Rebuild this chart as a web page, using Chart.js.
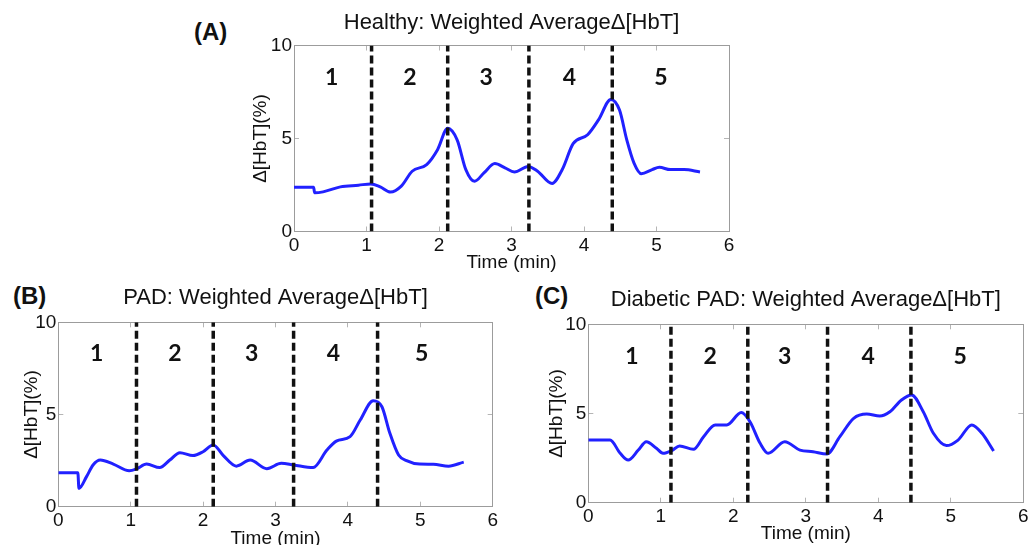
<!DOCTYPE html>
<html>
<head>
<meta charset="utf-8">
<script src="https://cdn.jsdelivr.net/npm/chart.js@4.4.1/dist/chart.umd.min.js"></script>
<style>
  html, body { margin: 0; padding: 0; background: #fff; }
  #wrap { position: relative; width: 1028px; height: 545px; overflow: hidden; background: #fff; }
  canvas { position: absolute; }
  .tag { position: absolute; font: bold 24px "Liberation Sans", Arial, sans-serif; color: #111; line-height: 1; }
</style>
</head>
<body>
<div id="wrap">
  <div class="tag" style="left:194px;top:20px">(A)</div>
  <div class="tag" style="left:13px;top:284px">(B)</div>
  <div class="tag" style="left:535px;top:284px">(C)</div>
  <canvas id="chartA" width="510" height="280" style="left:240px;top:0px"></canvas>
  <canvas id="chartB" width="505" height="270" style="left:10px;top:280px"></canvas>
  <canvas id="chartC" width="510" height="270" style="left:535px;top:280px"></canvas>
</div>
<script>
(() => {
  'use strict'

  // (A) Healthy
  const healthyTime = [0, 0.27, 0.285, 0.4, 0.64, 0.89, 1.06, 1.19, 1.33, 1.48, 1.63, 1.83, 1.98, 2.12, 2.25, 2.37, 2.49, 2.62, 2.77, 2.91, 3.04, 3.23, 3.36, 3.56, 3.7, 3.85, 4.05, 4.2, 4.37, 4.49, 4.59, 4.69, 4.79, 4.94, 5.04, 5.19, 5.38, 5.6]
  const healthyHbT = [2.38, 2.38, 2.08, 2.13, 2.4, 2.49, 2.56, 2.4, 2.12, 2.44, 3.24, 3.6, 4.4, 5.55, 4.93, 3.33, 2.7, 3.15, 3.65, 3.42, 3.2, 3.5, 3.24, 2.58, 3.33, 4.72, 5.2, 6.0, 7.1, 6.53, 4.93, 3.68, 3.11, 3.33, 3.45, 3.33, 3.33, 3.2]
  const healthyBounds = [1.07, 2.12, 3.24, 4.39]
  const healthyPhaseX = [0.52, 1.6, 2.65, 3.8, 5.06]

  // (B) PAD
  const padTime = [0, 0.27, 0.285, 0.39, 0.48, 0.58, 0.76, 0.98, 1.08, 1.22, 1.4, 1.54, 1.68, 1.86, 2.0, 2.14, 2.28, 2.46, 2.65, 2.88, 3.08, 3.25, 3.52, 3.71, 3.84, 4.03, 4.17, 4.35, 4.47, 4.58, 4.7, 4.81, 4.99, 5.18, 5.39, 5.6]
  const padHbT = [1.84, 1.84, 0.99, 1.63, 2.26, 2.53, 2.31, 1.95, 2.05, 2.31, 2.12, 2.53, 2.93, 2.77, 2.98, 3.35, 2.77, 2.2, 2.53, 2.06, 2.35, 2.26, 2.12, 3.07, 3.56, 3.8, 4.7, 5.75, 5.42, 3.98, 2.8, 2.5, 2.31, 2.3, 2.2, 2.42]
  const padBounds = [1.08, 2.14, 3.25, 4.41]
  const padPhaseX = [0.53, 1.61, 2.67, 3.8, 5.02]

  // (C) Diabetic PAD
  const diabeticTime = [0, 0.3, 0.44, 0.55, 0.69, 0.8, 0.94, 1.03, 1.15, 1.26, 1.45, 1.59, 1.75, 1.91, 2.11, 2.23, 2.37, 2.48, 2.71, 2.92, 3.1, 3.29, 3.47, 3.66, 3.84, 4.02, 4.16, 4.32, 4.46, 4.62, 4.76, 4.94, 5.1, 5.29, 5.43, 5.59]
  const diabeticHbT = [3.51, 3.51, 2.77, 2.39, 2.95, 3.42, 3.05, 2.77, 2.92, 3.18, 2.99, 3.7, 4.36, 4.36, 5.05, 4.54, 3.33, 2.77, 3.42, 2.95, 2.86, 2.73, 3.7, 4.73, 4.97, 4.86, 5.1, 5.76, 6.04, 5.1, 3.89, 3.2, 3.51, 4.36, 3.89, 2.9]
  const diabeticBounds = [1.14, 2.2, 3.3, 4.45]
  const diabeticPhaseX = [0.6, 1.68, 2.71, 3.86, 5.13]

  const phaseLabels = ['1', '2', '3', '4', '5']
  const xTicks = [0, 1, 2, 3, 4, 5, 6]
  const yTicks = [0, 5, 10]

  Chart.defaults.font.family = '"Liberation Sans", Arial, sans-serif'
  Chart.defaults.color = '#111'

  // phase numbers written inside the axes
  const phaseNumbers = {
    id: 'phaseNumbers',
    afterDatasetsDraw (chart, args, opts) {
      const { ctx, scales: { x, y } } = chart
      ctx.save()
      ctx.font = 'bold 23px Lato, "Open Sans", sans-serif'
      ctx.fillStyle = '#111'
      ctx.textAlign = 'center'
      ctx.textBaseline = 'middle'
      opts.xs.forEach((v, i) => {
        ctx.fillText(phaseLabels[i], x.getPixelForValue(v), y.getPixelForValue(opts.y))
      })
      ctx.restore()
    }
  }

  const boxColor = '#9c9c9c'
  const tickColor = '#b5b5b5'

  function makePanel (id, p) {
    const dashed = p.bounds.map(b => ({
      data: [{ x: b, y: yTicks[0] }, { x: b, y: yTicks[yTicks.length - 1] }],
      borderColor: '#111',
      borderWidth: 3.5,
      borderDash: [8, 4],
      pointRadius: 0
    }))
    const curve = {
      data: p.time.map((t, i) => ({ x: t, y: p.values[i] })),
      borderColor: '#2121ff',
      borderWidth: 3,
      pointRadius: 0,
      cubicInterpolationMode: 'monotone'
    }

    return new Chart(document.getElementById(id), {
      type: 'line',
      data: { datasets: [...dashed, curve] },
      options: {
        responsive: false,
        animation: false,
        devicePixelRatio: 1,
        layout: { padding: p.pad },
        plugins: {
          legend: { display: false },
          tooltip: { enabled: false },
          phaseNumbers: { xs: p.phaseX, y: p.phaseY }
        },
        scales: {
          x: {
            type: 'linear',
            position: 'bottom',
            min: xTicks[0],
            max: xTicks[xTicks.length - 1],
            afterBuildTicks: s => { s.ticks = xTicks.map(v => ({ value: v })) },
            ticks: { padding: 8, font: { size: 19 }, maxRotation: 0 },
            grid: { drawOnChartArea: false, tickLength: -5, color: tickColor },
            border: { color: boxColor },
            title: { display: true, text: 'Time (min)', padding: 0, font: { size: 19 } },
            afterFit: s => { s.height = p.hx }
          },
          x2: {
            type: 'linear',
            position: 'top',
            min: xTicks[0],
            max: xTicks[xTicks.length - 1],
            afterBuildTicks: s => { s.ticks = xTicks.map(v => ({ value: v })) },
            ticks: { display: false },
            grid: { drawOnChartArea: false, tickLength: -5, color: tickColor },
            border: { color: boxColor },
            title: { display: true, text: p.title, padding: 0, font: { size: 22 } },
            afterFit: s => { s.height = p.ht }
          },
          y: {
            position: 'left',
            min: yTicks[0],
            max: yTicks[yTicks.length - 1],
            afterBuildTicks: s => { s.ticks = yTicks.map(v => ({ value: v })) },
            ticks: { padding: 7, font: { size: 19 } },
            grid: { drawOnChartArea: false, tickLength: -5, color: tickColor },
            border: { color: boxColor },
            title: { display: true, text: 'Δ[HbT](%)', padding: 0, font: { size: 19 } },
            afterFit: s => { s.width = p.wy }
          },
          y2: {
            position: 'right',
            min: yTicks[0],
            max: yTicks[yTicks.length - 1],
            afterBuildTicks: s => { s.ticks = yTicks.map(v => ({ value: v })) },
            ticks: { display: false },
            grid: { drawOnChartArea: false, tickLength: -5, color: tickColor },
            border: { color: boxColor },
            afterFit: s => { s.width = p.wr }
          }
        }
      },
      plugins: [phaseNumbers]
    })
  }

  makePanel('chartA', {
    title: 'Healthy: Weighted AverageΔ[HbT]',
    time: healthyTime,
    values: healthyHbT,
    bounds: healthyBounds,
    phaseX: healthyPhaseX,
    phaseY: 8.3,
    pad: { left: 9.6, right: 6, top: 9.5, bottom: 5.6 },
    wy: 44.4, wr: 15, ht: 36, hx: 42.9
  })

  makePanel('chartB', {
    title: 'PAD: Weighted AverageΔ[HbT]',
    time: padTime,
    values: padHbT,
    bounds: padBounds,
    phaseX: padPhaseX,
    phaseY: 8.3,
    pad: { left: 10.3, right: 7.3, top: 4.8, bottom: 0.3 },
    wy: 38, wr: 15, ht: 37.5, hx: 43
  })

  makePanel('chartC', {
    title: 'Diabetic PAD: Weighted AverageΔ[HbT]',
    time: diabeticTime,
    values: diabeticHbT,
    bounds: diabeticBounds,
    phaseX: diabeticPhaseX,
    phaseY: 8.2,
    pad: { left: 10.3, right: 6.7, top: 6.8, bottom: 5.3 },
    wy: 43, wr: 15, ht: 37.5, hx: 42
  })
})()
</script>
</body>
</html>
